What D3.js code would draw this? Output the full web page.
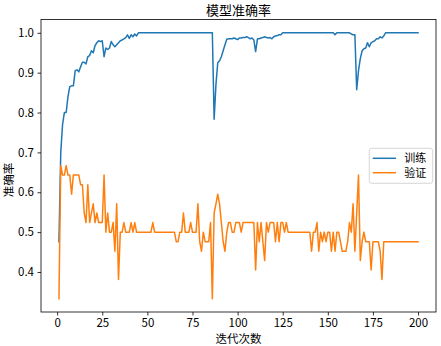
<!DOCTYPE html>
<html>
<head>
<meta charset="utf-8">
<script src="https://cdn.jsdelivr.net/npm/d3@7"></script>
<style>
  html, body { margin: 0; padding: 0; background: #fff; }
  svg { display: block; }
  text { font-family: "Noto Sans CJK SC", "DejaVu Sans", sans-serif; fill: #000; }
</style>
</head>
<body>
<svg id="chart" width="441" height="346"></svg>
<script>
// ---- data ----
const title = "模型准确率";
const xLabel = "迭代次数";
const yLabel = "准确率";
const seriesNames = ["训练", "验证"];
const xTicks = [0, 25, 50, 75, 100, 125, 150, 175, 200];
const yTicks = [0.4, 0.5, 0.6, 0.7, 0.8, 0.9, 1.0];

const trainAcc = [
  0.476, 0.700, 0.770, 0.800, 0.800, 0.840, 0.865, 0.867, 0.867, 0.905,
  0.907, 0.902, 0.915, 0.926, 0.926, 0.922, 0.940, 0.943, 0.955, 0.950,
  0.968, 0.975, 0.980, 0.978, 0.980, 0.940, 0.962, 0.958, 0.962, 0.978,
  0.970, 0.965, 0.970, 0.975, 0.980, 0.982, 0.985, 0.988, 0.995, 0.986,
  0.995, 0.990, 0.997, 0.992, 1.000, 1.000, 1.000, 1.000, 1.000, 1.000,
  1.000, 1.000, 1.000, 1.000, 1.000, 1.000, 1.000, 1.000, 1.000, 1.000,
  1.000, 1.000, 1.000, 1.000, 1.000, 1.000, 1.000, 1.000, 1.000, 1.000,
  1.000, 1.000, 1.000, 1.000, 1.000, 1.000, 1.000, 1.000, 1.000, 1.000,
  1.000, 1.000, 1.000, 1.000, 1.000, 1.000, 0.783, 0.870, 0.925, 0.930,
  0.940, 0.955, 0.970, 0.984, 0.985, 0.985, 0.985, 0.987, 0.985, 0.983,
  0.987, 0.987, 0.988, 0.988, 0.990, 0.988, 0.985, 0.987, 0.982, 0.953,
  0.985, 0.985, 0.987, 0.988, 0.990, 0.988, 0.987, 0.988, 0.985, 0.990,
  0.992, 0.993, 0.995, 0.995, 1.000, 1.000, 1.000, 1.000, 1.000, 1.000,
  1.000, 1.000, 1.000, 1.000, 1.000, 1.000, 1.000, 1.000, 1.000, 1.000,
  1.000, 1.000, 1.000, 1.000, 1.000, 1.000, 1.000, 1.000, 1.000, 1.000,
  1.000, 1.000, 1.000, 0.995, 1.000, 1.000, 1.000, 1.000, 1.000, 1.000,
  1.000, 1.000, 0.997, 0.995, 0.995, 0.857, 0.905, 0.935, 0.955, 0.960,
  0.962, 0.975, 0.965, 0.975, 0.978, 0.980, 0.985, 0.985, 0.990, 0.987,
  0.992, 1.000, 1.000, 1.000, 1.000, 1.000, 1.000, 1.000, 1.000, 1.000,
  1.000, 1.000, 1.000, 1.000, 1.000, 1.000, 1.000, 1.000, 1.000, 1.000
];

const valAcc = [
  0.333, 0.667, 0.643, 0.643, 0.667, 0.643, 0.643, 0.595, 0.643, 0.643,
  0.643, 0.643, 0.619, 0.619, 0.548, 0.524, 0.619, 0.524, 0.548, 0.571,
  0.524, 0.548, 0.524, 0.524, 0.524, 0.643, 0.500, 0.548, 0.500, 0.500,
  0.524, 0.452, 0.571, 0.381, 0.500, 0.500, 0.524, 0.500, 0.500, 0.500,
  0.524, 0.500, 0.524, 0.500, 0.500, 0.500, 0.500, 0.500, 0.500, 0.500,
  0.500, 0.500, 0.524, 0.500, 0.500, 0.500, 0.500, 0.500, 0.500, 0.500,
  0.500, 0.500, 0.500, 0.500, 0.500, 0.476, 0.476, 0.500, 0.500, 0.548,
  0.500, 0.500, 0.500, 0.524, 0.500, 0.500, 0.500, 0.571, 0.476, 0.452,
  0.500, 0.476, 0.476, 0.476, 0.524, 0.333, 0.548, 0.571, 0.595, 0.571,
  0.524, 0.476, 0.452, 0.500, 0.524, 0.524, 0.500, 0.500, 0.524, 0.524,
  0.524, 0.500, 0.524, 0.524, 0.524, 0.524, 0.524, 0.524, 0.524, 0.405,
  0.524, 0.476, 0.524, 0.476, 0.429, 0.524, 0.500, 0.524, 0.524, 0.524,
  0.476, 0.524, 0.476, 0.524, 0.524, 0.500, 0.524, 0.500, 0.500, 0.500,
  0.500, 0.500, 0.500, 0.500, 0.500, 0.500, 0.500, 0.500, 0.500, 0.500,
  0.452, 0.500, 0.500, 0.524, 0.452, 0.500, 0.476, 0.500, 0.476, 0.500,
  0.500, 0.452, 0.500, 0.452, 0.500, 0.500, 0.476, 0.452, 0.452, 0.452,
  0.476, 0.524, 0.500, 0.571, 0.452, 0.548, 0.643, 0.429, 0.476, 0.500,
  0.476, 0.476, 0.476, 0.405, 0.476, 0.476, 0.476, 0.476, 0.452, 0.381,
  0.476, 0.476, 0.476, 0.476, 0.476, 0.476, 0.476, 0.476, 0.476, 0.476,
  0.476, 0.476, 0.476, 0.476, 0.476, 0.476, 0.476, 0.476, 0.476, 0.476
];

const colors = ["#1f77b4", "#ff7f0e"];

// ---- layout ----
const W = 441, H = 346;
const plot = { left: 41, top: 19.5, right: 436, bottom: 312 };

const epochs = trainAcc.map((_, i) => i + 1);
const xMin = d3.min(epochs), xMax = d3.max(epochs);
const xPad = (xMax - xMin) * 0.05;
const allY = trainAcc.concat(valAcc);
const yMin = d3.min(allY), yMax = d3.max(allY);
const yPad = (yMax - yMin) * 0.05;

const x = d3.scaleLinear().domain([xMin - xPad, xMax + xPad]).range([plot.left, plot.right]);
const y = d3.scaleLinear().domain([yMin - yPad, yMax + yPad]).range([plot.bottom, plot.top]);

const svg = d3.select("#chart");
svg.append("rect").attr("width", W).attr("height", H).attr("fill", "#fff");

const FS = 11.5;

// axes
const xAxis = svg.append("g")
  .attr("transform", `translate(0,${plot.bottom})`)
  .call(d3.axisBottom(x).tickValues(xTicks).tickSize(3.5).tickPadding(3.5).tickFormat(d3.format("d")));
const yAxis = svg.append("g")
  .attr("transform", `translate(${plot.left},0)`)
  .call(d3.axisLeft(y).tickValues(yTicks).tickSize(3.5).tickPadding(3.5).tickFormat(d3.format(".1f")));
[xAxis, yAxis].forEach(g => {
  g.select(".domain").remove();
  g.selectAll(".tick line").attr("stroke", "#000").attr("stroke-width", 0.8);
  g.selectAll(".tick text").attr("font-size", FS).attr("font-family", null).attr("fill", "#000");
});

// lines
const line = d3.line().x((d, i) => x(epochs[i])).y(d => y(d));
[trainAcc, valAcc].forEach((s, k) => {
  svg.append("path").datum(s)
    .attr("d", line)
    .attr("fill", "none")
    .attr("stroke", colors[k])
    .attr("stroke-width", 1.5)
    .attr("stroke-linejoin", "round")
    .attr("stroke-linecap", "square");
});

// frame
svg.append("rect")
  .attr("x", plot.left).attr("y", plot.top)
  .attr("width", plot.right - plot.left).attr("height", plot.bottom - plot.top)
  .attr("fill", "none").attr("stroke", "#000").attr("stroke-width", 0.8);

// title & labels
svg.append("text").attr("x", (plot.left + plot.right) / 2).attr("y", 14.5)
  .attr("text-anchor", "middle").attr("font-size", 13).text(title);
svg.append("text").attr("x", (plot.left + plot.right) / 2).attr("y", 343)
  .attr("text-anchor", "middle").attr("font-size", FS).text(xLabel);
svg.append("text")
  .attr("transform", `translate(12.5,${180}) rotate(-90)`)
  .attr("text-anchor", "middle").attr("font-size", FS).text(yLabel);

// legend
const lg = svg.append("g").attr("transform", "translate(369.3,148.3)");
lg.append("rect").attr("width", 63.4).attr("height", 35).attr("rx", 2.5)
  .attr("fill", "#fff").attr("fill-opacity", 0.8)
  .attr("stroke", "#cccccc").attr("stroke-width", 0.8);
seriesNames.forEach((name, k) => {
  const yy = 10 + k * 14.4;
  lg.append("line").attr("x1", 3.4).attr("x2", 26.7).attr("y1", yy).attr("y2", yy)
    .attr("stroke", colors[k]).attr("stroke-width", 1.5);
  lg.append("text").attr("x", 35).attr("y", yy).attr("dy", "0.35em")
    .attr("font-size", 11).text(name);
});
</script>
</body>
</html>
